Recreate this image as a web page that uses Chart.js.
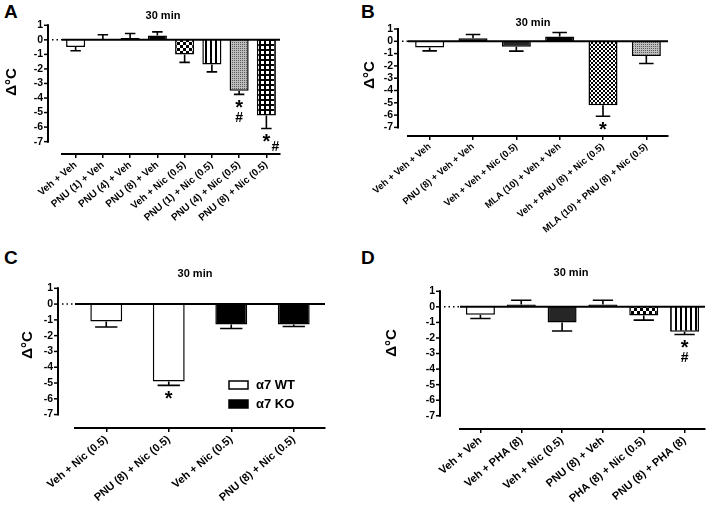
<!DOCTYPE html>
<html>
<head>
<meta charset="utf-8">
<script src="https://cdn.jsdelivr.net/npm/chart.js@4"></script>
<style>
  body { margin: 0; background: #fff; width: 709px; height: 517px; position: relative; overflow: hidden; }
  canvas { position: absolute; }
  .letter { position: absolute; font: bold 19px "Liberation Sans", Arial, sans-serif; color: #000; }
</style>
</head>
<body>
<div class="letter" style="left:4px;top:1px">A</div>
<div class="letter" style="left:361px;top:1px">B</div>
<div class="letter" style="left:4px;top:247px">C</div>
<div class="letter" style="left:361px;top:247px">D</div>
<canvas id="chartA" width="352" height="250" style="left:0;top:0"></canvas>
<canvas id="chartB" width="354" height="255" style="left:355px;top:0"></canvas>
<canvas id="chartC" width="352" height="257" style="left:0;top:260px"></canvas>
<canvas id="chartD" width="354" height="257" style="left:355px;top:260px"></canvas>
<script>
const yTicks = [1, 0, -1, -2, -3, -4, -5, -6, -7];

// A
const labelsA = ['Veh + Veh', 'PNU (1) + Veh', 'PNU (4) + Veh', 'PNU (8) + Veh',
  'Veh + Nic (0.5)', 'PNU (1) + Nic (0.5)', 'PNU (4) + Nic (0.5)', 'PNU (8) + Nic (0.5)'];
const meansA = [-0.5, 0.02, 0.12, 0.3, -1.0, -1.7, -3.5, -5.2];
const semA = [0.25, 0.33, 0.32, 0.25, 0.55, 0.5, 0.25, 0.9];
const sigA = ['', '', '', '', '', '', '*#', '*#'];

// B
const labelsB = ['Veh + Veh + Veh', 'PNU (8) + Veh + Veh', 'Veh + Veh + Nic (0.5)',
  'MLA (10) + Veh + Veh', 'Veh + PNU (8) + Nic (0.5)', 'MLA (10) + PNU (8) + Nic (0.5)'];
const meansB = [-0.5, 0.25, -0.45, 0.4, -5.2, -1.2];
const semB = [0.28, 0.3, 0.35, 0.32, 0.9, 0.6];
const sigB = ['', '', '', '', '*', ''];

// C
const labelsC = ['Veh + Nic (0.5)', 'PNU (8) + Nic (0.5)', 'Veh + Nic (0.5)', 'PNU (8) + Nic (0.5)'];
const meansC = [-1.1, -4.9, -1.3, -1.3];
const semC = [0.35, 0.25, 0.25, 0.12];
const sigC = ['', '*', '', ''];
const legendC = ['α7 WT', 'α7 KO'];

// D
const labelsD = ['Veh + Veh', 'Veh + PHA (8)', 'Veh + Nic (0.5)', 'PNU (8) + Veh',
  'PHA (8) + Nic (0.5)', 'PNU (8) + PHA (8)'];
const meansD = [-0.5, 0.15, -1.0, 0.15, -0.55, -1.6];
const semD = [0.25, 0.27, 0.55, 0.27, 0.3, 0.18];
const sigD = ['', '', '', '', '', '*#'];

const FONT = '"Liberation Sans", Arial, sans-serif';
Chart.defaults.color = '#000';
Chart.defaults.font.family = FONT;

function tile(w, h, draw) {
  const c = document.createElement('canvas');
  c.width = w; c.height = h;
  const g = c.getContext('2d');
  draw(g);
  return g.createPattern(c, 'repeat');
}

const fills = {
  white: '#fff',
  black: '#000',
  dark: '#262626',
  checker: tile(6, 6, g => {
    g.fillStyle = '#000'; g.fillRect(0, 0, 6, 6);
    g.fillStyle = '#fff'; g.fillRect(0, 0, 3, 3); g.fillRect(3, 3, 3, 3);
  }),
  checkerFine: tile(4, 4, g => {
    g.fillStyle = '#000'; g.fillRect(0, 0, 4, 4);
    g.fillStyle = '#fff'; g.fillRect(0, 0, 2, 2); g.fillRect(2, 2, 2, 2);
  }),
  vstripe: tile(5, 1, g => {
    g.fillStyle = '#fff'; g.fillRect(0, 0, 5, 1);
    g.fillStyle = '#000'; g.fillRect(0, 0, 2, 1);
  }),
  stipple: tile(2, 2, g => {
    g.fillStyle = '#bdbdbd'; g.fillRect(0, 0, 2, 2);
    g.fillStyle = '#5a5a5a'; g.fillRect(0, 0, 1, 1);
  }),
  grid: tile(5, 5, g => {
    g.fillStyle = '#000'; g.fillRect(0, 0, 5, 5);
    g.fillStyle = '#fff'; g.fillRect(1, 1, 3, 3);
  })
};

const panelPlugin = {
  id: 'panel',
  afterDatasetsDraw(chart, args, o) {
    const ctx = chart.ctx, area = chart.chartArea, y = chart.scales.y;
    const ds = chart.data.datasets[0];
    const meta = chart.getDatasetMeta(0);
    const axisX = area.left - o.gap;
    const y0 = y.getPixelForValue(0);
    ctx.save();
    ctx.strokeStyle = '#000';
    ctx.fillStyle = '#000';

    // error bars (one-sided, away from zero)
    ctx.lineWidth = 1.6;
    meta.data.forEach((bar, i) => {
      const m = ds.data[i];
      const dir = m < 0 ? -1 : 1;
      const yEnd = y.getPixelForValue(m + dir * ds.sem[i]);
      const half = bar.width * o.cap / 2;
      ctx.beginPath();
      ctx.moveTo(bar.x, y.getPixelForValue(m));
      ctx.lineTo(bar.x, yEnd);
      ctx.moveTo(bar.x - half, yEnd);
      ctx.lineTo(bar.x + half, yEnd);
      ctx.stroke();

      // significance marks
      const s = ds.sig[i];
      for (let k = 0; k < s.length; k++) {
        let tx = bar.x, ty = yEnd + 10 + k * 14;
        if (ty > area.bottom - 6) { tx += 9; ty = area.bottom - 7; }
        ctx.textAlign = 'center'; ctx.textBaseline = 'middle';
        if (s[k] === '*') {
          ctx.font = 'bold 20px ' + FONT;
          ctx.fillText('*', tx, ty + 4);
        } else {
          ctx.font = 'bold 14px ' + FONT;
          ctx.fillText(s[k], tx, ty);
        }
      }
    });

    // zero line, dotted out to the y axis
    ctx.lineWidth = 1.5;
    ctx.setLineDash([1.5, 3]);
    ctx.beginPath(); ctx.moveTo(axisX + 4, y0); ctx.lineTo(area.left, y0); ctx.stroke();
    ctx.setLineDash([]);
    ctx.lineWidth = 2;
    ctx.beginPath(); ctx.moveTo(area.left, y0); ctx.lineTo(area.right, y0); ctx.stroke();

    // y axis
    ctx.lineCap = 'square';
    ctx.beginPath();
    ctx.moveTo(axisX, y.getPixelForValue(1));
    ctx.lineTo(axisX, y.getPixelForValue(-7));
    ctx.stroke();
    ctx.lineCap = 'butt';
    ctx.lineWidth = 1.5;
    yTicks.forEach(v => {
      const p = y.getPixelForValue(v);
      ctx.beginPath(); ctx.moveTo(axisX - 4, p); ctx.lineTo(axisX, p); ctx.stroke();
    });

    // title
    ctx.font = 'bold 11px ' + FONT;
    ctx.textAlign = 'center'; ctx.textBaseline = 'middle';
    ctx.fillText('30 min', o.title[0], o.title[1]);

    // y title
    ctx.save();
    ctx.translate(o.yTitle[0], o.yTitle[1]);
    ctx.rotate(-Math.PI / 2);
    ctx.font = 'bold 15px ' + FONT;
    ctx.fillText('Δ°C', 0, 0);
    ctx.restore();

    // legend
    if (o.legend) {
      ctx.font = 'bold 13px ' + FONT;
      ctx.textAlign = 'left';
      o.legend.forEach((item, k) => {
        const lx = o.legendAt[0], ly = o.legendAt[1] + k * 19;
        ctx.fillStyle = item.fill;
        ctx.fillRect(lx, ly - 4, 19, 8);
        ctx.lineWidth = 1.5;
        ctx.strokeRect(lx, ly - 4, 19, 8);
        ctx.fillStyle = '#000';
        ctx.fillText(item.label, lx + 27, ly);
      });
    }
    ctx.restore();
  }
};

function makeChart(id, labels, means, sem, sig, fillKeys, cfg) {
  return new Chart(document.getElementById(id), {
    type: 'bar',
    data: {
      labels: labels,
      datasets: [{
        data: means,
        sem: sem,
        sig: sig,
        backgroundColor: fillKeys.map(k => fills[k]),
        borderColor: '#000',
        borderWidth: 1.5,
        borderSkipped: 'start',
        barPercentage: cfg.barPct,
        categoryPercentage: 1
      }]
    },
    options: {
      responsive: false,
      animation: false,
      layout: { padding: { left: 0, top: cfg.top, right: cfg.right, bottom: 0 } },
      plugins: {
        legend: { display: false },
        tooltip: { enabled: false },
        panel: cfg.panel
      },
      scales: {
        x: {
          offset: true,
          grid: { display: true, drawOnChartArea: false, offset: false, drawTicks: true, tickLength: 4, color: '#000', lineWidth: 1.5 },
          border: { display: true, color: '#000', width: 2 },
          ticks: { minRotation: 40, maxRotation: 40, autoSkip: false, padding: 1, font: { size: cfg.labelSize, weight: 'bold' } },
          afterFit: s => { s.height = cfg.xH; }
        },
        y: {
          min: cfg.yMin,
          max: 1,
          grid: { display: false, drawTicks: false },
          border: { display: false },
          afterBuildTicks: s => { s.ticks = yTicks.map(v => ({ value: v })); },
          ticks: { autoSkip: false, padding: cfg.panel.gap + 5, font: { size: 10.5, weight: 'bold' }, callback: v => String(v) },
          afterFit: s => { s.width = cfg.yW; }
        }
      }
    },
    plugins: [panelPlugin]
  });
}

makeChart('chartA', labelsA, meansA, semA, sigA,
  ['white', 'white', 'black', 'black', 'checker', 'vstripe', 'stipple', 'grid'],
  { top: 25, right: 72, yW: 62, xH: 96, yMin: -7.85, barPct: 0.7, labelSize: 10,
    panel: { gap: 14, cap: 0.55, title: [163, 16], yTitle: [12, 82] } });

makeChart('chartB', labelsB, meansB, semB, sigB,
  ['white', 'black', 'dark', 'black', 'checkerFine', 'stipple'],
  { top: 29, right: 41, yW: 53, xH: 119, yMin: -7.7, barPct: 0.67, labelSize: 9.5,
    panel: { gap: 10, cap: 0.5, title: [178, 23], yTitle: [15, 75] } });

makeChart('chartC', labelsC, meansC, semC, sigC,
  ['white', 'white', 'black', 'black'],
  { top: 22, right: 27, yW: 75, xH: 89, yMin: -7.85, barPct: 0.51, labelSize: 11,
    panel: { gap: 17, cap: 0.7, title: [195, 14], yTitle: [28, 85],
      legend: [{ label: legendC[0], fill: '#fff' }, { label: legendC[1], fill: '#000' }],
      legendAt: [229, 125] } });

makeChart('chartD', labelsD, meansD, semD, sigD,
  ['white', 'black', 'dark', 'black', 'checker', 'vstripe'],
  { top: 17, right: 4, yW: 105, xH: 88, yMin: -7.85, barPct: 0.71, labelSize: 11,
    panel: { gap: 20, cap: 0.7, title: [216, 13], yTitle: [37, 83] } });
</script>
</body>
</html>
